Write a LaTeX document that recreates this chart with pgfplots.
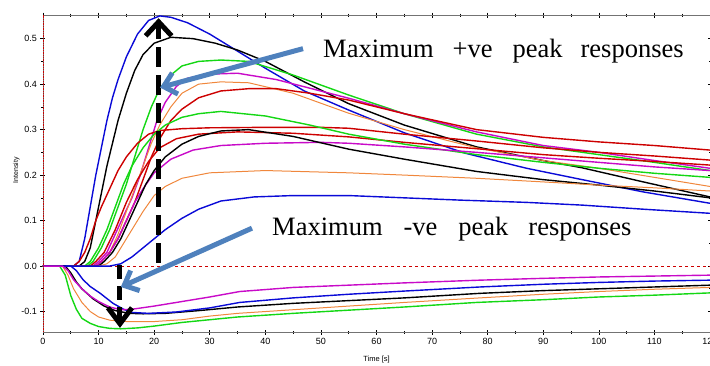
\documentclass[border=0pt]{standalone}
\usepackage{fontspec}
\setmainfont{Liberation Sans}
\newfontfamily\timesfont{Liberation Serif}
\usepackage{pgfplots}
\pgfplotsset{compat=1.18}
\usetikzlibrary{arrows.meta}
\definecolor{cblue}{RGB}{10,10,215}
\definecolor{cgreen}{RGB}{20,215,20}
\definecolor{cmag}{RGB}{200,10,200}
\definecolor{corange}{RGB}{240,135,60}
\definecolor{cred}{RGB}{205,0,0}
\definecolor{arrowblue}{RGB}{79,129,189}
\begin{document}
\begin{tikzpicture}
\begin{axis}[
  at={(0,0)}, anchor=south west,
  scale only axis, width=667pt, height=317pt,
  xmin=0, xmax=120, ymin=-0.145, ymax=0.552,
  xtick={0,10,...,120}, minor x tick num=1,
  ytick={-0.1,0,0.1,0.2,0.3,0.4,0.5}, minor y tick num=1,
  scaled y ticks=false,
  yticklabel style={/pgf/number format/.cd, fixed, fixed zerofill, precision=1},
  /pgf/number format/assume math mode=true,
  tick label style={font=\fontsize{9}{10}\selectfont},
  tick align=center, major tick length=5pt, minor tick length=3pt,
  tick style={black, line width=0.6pt},
  axis line style={black!55, line width=0.9pt},
  clip=false,
  every axis plot/.append style={line width=1.4pt, no marks},
]
% zero reference line
\addplot[cred, dashed, line width=0.6pt] coordinates {(0,0) (120,0)};
% positive responses
\addplot[cblue] coordinates {(0,0)(5.5,0)(6.5,0.01)(7.5,0.06)(8.5,0.13)(9.5,0.2)(10.5,0.26)(11.5,0.32)(12.5,0.37)(13.5,0.41)(15,0.46)(17,0.51)(19,0.54)(21,0.55)(23,0.547)(26,0.535)(30,0.51)(34,0.48)(40,0.435)(47,0.385)(55,0.343)(65,0.293)(76,0.248)(87,0.215)(97,0.19)(108,0.163)(120,0.138)};
\addplot[black] coordinates {(0,0)(6.5,0)(7.5,0.01)(8.5,0.04)(9.5,0.1)(10.5,0.16)(11.5,0.22)(12.5,0.27)(13.5,0.32)(15,0.38)(16.5,0.43)(18,0.465)(20,0.49)(23,0.503)(27,0.5)(31,0.49)(35,0.475)(40,0.45)(47,0.405)(55,0.357)(65,0.31)(78,0.262)(90,0.232)(97,0.216)(108,0.185)(120,0.152)};
\addplot[cgreen] coordinates {(0,0)(8,0)(9,0.01)(10.5,0.04)(12,0.08)(13.5,0.13)(15,0.18)(16.5,0.24)(18,0.3)(19.5,0.35)(21,0.39)(23,0.42)(25,0.44)(28,0.45)(32,0.453)(37,0.45)(45,0.42)(55,0.376)(65,0.335)(78,0.29)(90,0.262)(100,0.245)(110,0.228)(120,0.21)};
\addplot[cmag] coordinates {(0,0)(9,0)(10,0.01)(11.5,0.03)(13,0.07)(14.5,0.11)(16,0.15)(17.5,0.2)(19,0.26)(20.5,0.32)(22,0.36)(24,0.395)(26,0.413)(30,0.422)(35,0.424)(42,0.41)(55,0.369)(65,0.335)(78,0.295)(90,0.265)(100,0.25)(110,0.232)(120,0.215)};
\addplot[corange, line width=1pt] coordinates {(0,0)(9.5,0)(10.5,0.01)(12,0.03)(13.5,0.07)(15,0.12)(16.5,0.17)(18,0.22)(19.5,0.27)(21,0.31)(23,0.35)(25,0.38)(28,0.4)(32,0.405)(37,0.403)(45,0.38)(55,0.336)(65,0.3)(78,0.26)(90,0.232)(100,0.215)(110,0.195)(120,0.175)};
\addplot[cred] coordinates {(0,0)(9.5,0)(10.5,0.01)(12,0.03)(13.5,0.06)(15,0.1)(16.5,0.14)(18,0.19)(19.5,0.24)(21,0.28)(23,0.32)(25,0.345)(28,0.37)(32,0.385)(37,0.39)(42,0.39)(48,0.38)(55,0.365)(65,0.335)(78,0.3)(90,0.283)(100,0.273)(110,0.265)(120,0.255)};
\addplot[cred] coordinates {(0,0)(5.5,0)(6.5,0.01)(7.5,0.03)(8.5,0.06)(9.5,0.1)(10.5,0.13)(12,0.17)(13.5,0.21)(15,0.24)(17,0.27)(19,0.29)(21,0.298)(25,0.302)(30,0.304)(40,0.305)(50,0.305)(55,0.303)(65,0.29)(78,0.275)(90,0.26)(100,0.25)(110,0.242)(120,0.233)};
\addplot[cred] coordinates {(0,0)(8.5,0)(9.5,0.01)(11,0.03)(13,0.08)(15,0.14)(17,0.19)(19,0.23)(21,0.26)(24,0.28)(28,0.29)(35,0.295)(45,0.292)(55,0.284)(65,0.272)(78,0.258)(90,0.245)(100,0.237)(110,0.23)(120,0.222)};
\addplot[cgreen] coordinates {(0,0)(7.5,0)(8.5,0.01)(10,0.04)(11.5,0.08)(13,0.13)(14.5,0.18)(16,0.22)(18,0.26)(20,0.29)(22,0.31)(25,0.327)(28,0.335)(32,0.34)(40,0.33)(48,0.31)(55,0.29)(65,0.268)(78,0.245)(90,0.228)(100,0.215)(110,0.204)(120,0.195)};
\addplot[cmag] coordinates {(0,0)(9.5,0)(10.5,0.01)(12,0.03)(13.5,0.06)(15,0.1)(16.5,0.14)(18,0.17)(20,0.205)(23,0.235)(27,0.255)(32,0.265)(40,0.27)(50,0.272)(55,0.27)(65,0.262)(78,0.25)(90,0.238)(100,0.228)(110,0.218)(120,0.21)};
\addplot[black] coordinates {(0,0)(10,0)(11,0.01)(12.5,0.03)(14,0.06)(15.5,0.1)(17,0.14)(18.5,0.18)(20,0.21)(22,0.24)(25,0.268)(28,0.285)(32,0.297)(37,0.3)(45,0.285)(55,0.257)(65,0.235)(78,0.208)(90,0.19)(100,0.178)(110,0.165)(120,0.15)};
\addplot[corange, line width=1pt] coordinates {(0,0)(10,0)(11.5,0.005)(13,0.02)(14.5,0.05)(16,0.08)(18,0.12)(20,0.155)(22,0.175)(25,0.193)(30,0.205)(40,0.21)(55,0.205)(65,0.2)(78,0.193)(90,0.185)(100,0.178)(110,0.172)(120,0.165)};
\addplot[cblue] coordinates {(0,0)(12,0)(14,0.005)(16,0.02)(18,0.04)(20,0.06)(22,0.08)(25,0.105)(28,0.125)(32,0.143)(38,0.152)(45,0.155)(55,0.155)(65,0.15)(75,0.145)(87,0.14)(97,0.134)(108,0.125)(120,0.116)};
% negative responses
\addplot[cgreen] coordinates {(0,0)(3,0)(4,-0.02)(5,-0.065)(6,-0.095)(7,-0.115)(8.5,-0.126)(10,-0.133)(12,-0.137)(14,-0.138)(17,-0.136)(20,-0.132)(25,-0.124)(30,-0.118)(35,-0.112)(45,-0.104)(55,-0.097)(65,-0.09)(78,-0.08)(90,-0.074)(100,-0.068)(110,-0.064)(120,-0.059)};
\addplot[corange, line width=1pt] coordinates {(0,0)(3.5,0)(4.5,-0.02)(5.5,-0.05)(7,-0.08)(8.5,-0.1)(10,-0.112)(12,-0.119)(15,-0.122)(20,-0.122)(25,-0.118)(30,-0.11)(35,-0.104)(45,-0.096)(55,-0.088)(65,-0.08)(78.6,-0.07)(90,-0.062)(100,-0.056)(110,-0.051)(120,-0.047)};
\addplot[black] coordinates {(0,0)(4,0)(5,-0.015)(6,-0.035)(7,-0.05)(9,-0.072)(11,-0.088)(13,-0.098)(15.5,-0.104)(18,-0.105)(22,-0.104)(28,-0.098)(35,-0.09)(45,-0.082)(55,-0.076)(65,-0.07)(78.6,-0.06)(90,-0.054)(100,-0.05)(110,-0.046)(120,-0.042)};
\addplot[cblue] coordinates {(0,0)(5,0)(6,-0.01)(7.2,-0.03)(8.5,-0.045)(10.3,-0.06)(12.6,-0.082)(14.5,-0.095)(16,-0.102)(19,-0.104)(24,-0.101)(30,-0.092)(35.4,-0.08)(45,-0.07)(55,-0.062)(65,-0.055)(78.6,-0.046)(90,-0.04)(100,-0.036)(110,-0.033)(120,-0.031)};
\addplot[cmag] coordinates {(0,0)(3.5,0)(4.5,-0.01)(5.5,-0.03)(7,-0.05)(8.5,-0.066)(10,-0.078)(12,-0.09)(14,-0.096)(16,-0.095)(20,-0.088)(25,-0.078)(30,-0.068)(35.4,-0.056)(45,-0.047)(55,-0.042)(65,-0.037)(78.6,-0.031)(90,-0.027)(100,-0.024)(110,-0.022)(120,-0.02)};
% left reference line
\addplot[cred, densely dotted, line width=0.8pt] coordinates {(0,-0.145) (0,0.552)};
% annotations
\draw[black, line width=5pt, dash pattern=on 20pt off 8pt, -{Straight Barb[length=14pt,width=26pt]}] (axis cs:20.8,0.007) -- (axis cs:20.8,0.545);
\draw[black, line width=5pt, dash pattern=on 14pt off 7pt, -{Straight Barb[length=16pt,width=24pt]}] (axis cs:13.85,0.002) -- (axis cs:13.85,-0.136);
\draw[arrowblue, line width=5pt, -{Straight Barb[length=12pt,width=22pt]}] (axis cs:46.78,0.478) -- (axis cs:21.05,0.3925);
\draw[arrowblue, line width=5pt, -{Straight Barb[length=12pt,width=22pt]}] (axis cs:37.6,0.0833) -- (axis cs:14.0,-0.046);
\node[anchor=base west, inner sep=0pt, font=\timesfont\fontsize{26.5}{30}\selectfont] at (axis cs:50.38,0.458) {Maximum\hspace{19pt}+ve\hspace{20pt}peak\hspace{18pt}responses};
\node[anchor=base west, inner sep=0pt, font=\timesfont\fontsize{26.5}{30}\selectfont] at (axis cs:41.2,0.068) {Maximum\hspace{21pt}-ve\hspace{21pt}peak\hspace{20pt}responses};
\node[rotate=90, font=\fontsize{7}{8}\selectfont] at (axis description cs:-0.04,0.51) {Intensity};
\node[font=\fontsize{7.5}{8}\selectfont] at (axis description cs:0.5,-0.088) {Time [s]};
\end{axis}
\pgfresetboundingbox
\path (-43pt,-33pt) rectangle (667pt,332pt);
\end{tikzpicture}
\end{document}
